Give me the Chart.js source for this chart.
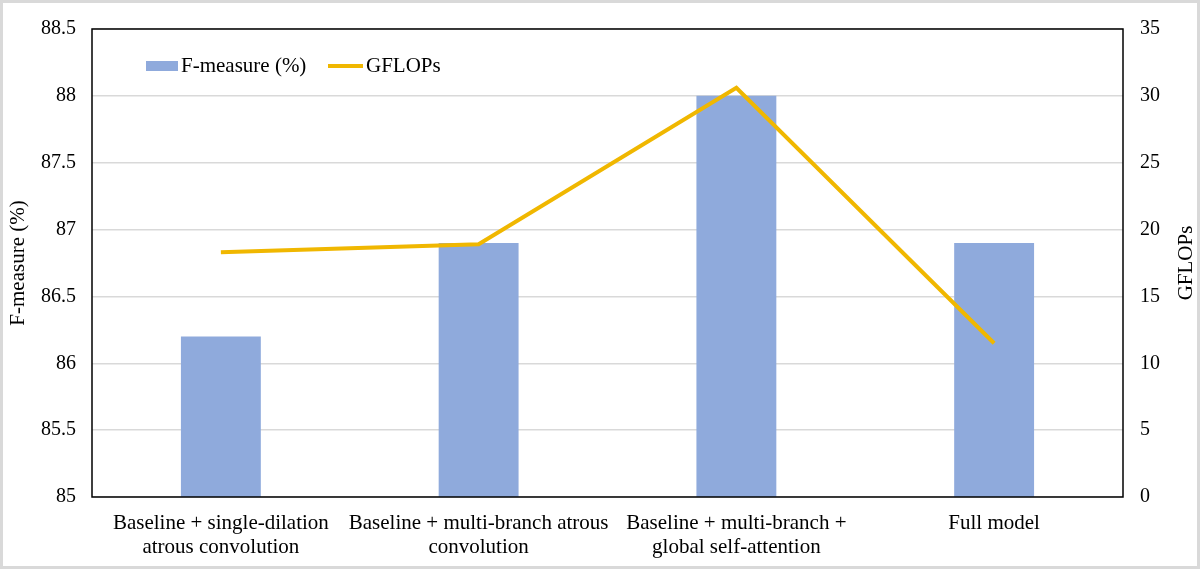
<!DOCTYPE html>
<html>
<head>
<meta charset="utf-8">
<script src="https://cdn.jsdelivr.net/npm/chart.js@4"></script>
<style>
  html, body { margin: 0; padding: 0; background: #fff; }
  #wrap { width: 1200px; height: 569px; position: relative; }
</style>
</head>
<body>
<div id="wrap"><canvas id="c"></canvas></div>
<script>
// ── Data ──────────────────────────────────────────────────────────────────────
const categories = [
    ['Baseline + single-dilation', 'atrous convolution'],
    ['Baseline + multi-branch atrous', 'convolution'],
    ['Baseline + multi-branch +', 'global self-attention'],
    'Full model',
];
const fMeasure = [86.2, 86.9, 88.0, 86.9];
const gflops   = [18.3, 18.9, 30.6, 11.5];

const leftTicks  = { min: 85, max: 88.5, step: 0.5 };
const rightTicks = { min: 0, max: 35, step: 5 };

const FONT = "'Liberation Serif', 'Times New Roman', serif";
const BAR  = '#8faadc';
const LINE = '#f0b700';

// ── Frame + plot border + in-plot legend + right title ───────────────────────
const framePlugin = {
    id: 'frame',
    beforeDraw(chart) {
        const { ctx, width, height } = chart;
        ctx.save();
        ctx.fillStyle = '#fff';
        ctx.fillRect(0, 0, width, height);
        ctx.strokeStyle = '#d9d9d9';
        ctx.lineWidth = 3;
        ctx.strokeRect(1.5, 1.5, width - 3, height - 3);
        ctx.restore();
    },
    afterDraw(chart) {
        const { ctx, chartArea: a } = chart;
        const barDs  = chart.data.datasets.find(d => d.type === 'bar');
        const lineDs = chart.data.datasets.find(d => d.type === 'line');
        ctx.save();
        ctx.strokeStyle = '#000';
        ctx.lineWidth = 1.5;
        ctx.strokeRect(a.left, a.top, a.right - a.left, a.bottom - a.top);

        // legend
        ctx.font = `21px ${FONT}`;
        ctx.textBaseline = 'middle';
        const y = 66;
        ctx.fillStyle = barDs.backgroundColor;
        ctx.fillRect(146, y - 5, 32, 10);
        ctx.fillStyle = '#000';
        ctx.fillText(barDs.label, 181, y);
        ctx.strokeStyle = lineDs.borderColor;
        ctx.lineWidth = 4;
        ctx.beginPath(); ctx.moveTo(328, y); ctx.lineTo(363, y); ctx.stroke();
        ctx.fillText(lineDs.label, 366, y);

        // right axis title, reading bottom-to-top
        ctx.translate(1186, (a.top + a.bottom) / 2);
        ctx.rotate(-Math.PI / 2);
        ctx.textAlign = 'center';
        ctx.fillText('GFLOPs', 0, 0);
        ctx.restore();
    },
};

new Chart(document.getElementById('c'), {
    data: {
        labels: categories,
        datasets: [
            { type: 'line', label: 'GFLOPs', data: gflops, yAxisID: 'y2', borderColor: LINE, borderWidth: 4, pointRadius: 0, tension: 0, fill: false, order: 0 },
            { type: 'bar',  label: 'F-measure (%)', data: fMeasure, yAxisID: 'y', backgroundColor: BAR, barPercentage: 0.62, categoryPercentage: 0.5, order: 1 },
        ],
    },
    options: {
        responsive: true, maintainAspectRatio: false, animation: false,
        layout: { padding: { top: 28, left: 0, right: 0, bottom: 0 } },
        plugins: { legend: { display: false }, tooltip: { enabled: false } },
        scales: {
            x: {
                grid: { display: false },
                border: { display: false },
                ticks: { color: '#000', font: { family: FONT, size: 21, lineHeight: 1.15 }, maxRotation: 0, autoSkip: false, padding: 6 },
                afterFit: s => { s.height = 72; },
            },
            y: {
                position: 'left', min: leftTicks.min, max: leftTicks.max,
                ticks: { stepSize: leftTicks.step, color: '#000', font: { family: FONT, size: 20 }, padding: 16, callback: v => String(+v.toFixed(1)) },
                grid: { color: '#d9d9d9', lineWidth: 1.5, drawTicks: false },
                border: { display: false },
                title: { display: true, text: 'F-measure (%)', color: '#000', font: { family: FONT, size: 21 }, padding: { top: 6, bottom: 0 } },
                afterFit: s => { s.width = 92; },
            },
            y2: {
                position: 'right', min: rightTicks.min, max: rightTicks.max,
                ticks: { stepSize: rightTicks.step, color: '#000', font: { family: FONT, size: 20 }, padding: 17 },
                grid: { display: false, drawTicks: false },
                border: { display: false },
                afterFit: s => { s.width = 77; },
            },
        },
    },
    plugins: [framePlugin],
});
</script>
</body>
</html>
